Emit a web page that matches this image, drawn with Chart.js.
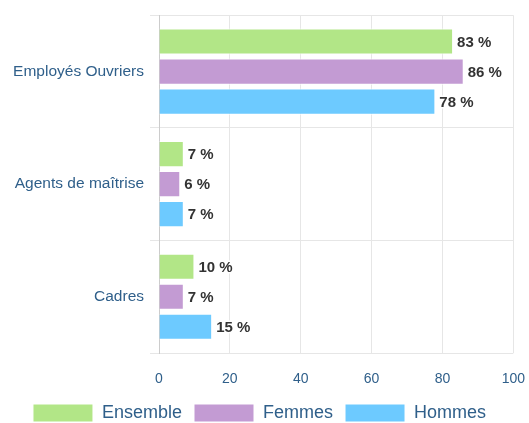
<!DOCTYPE html>
<html>
<head>
<meta charset="utf-8">
<script src="https://cdn.jsdelivr.net/npm/chart.js@4"></script>
<style>
  html, body { margin: 0; padding: 0; background: #fff; }
  #wrap { width: 529px; height: 423px; }
</style>
</head>
<body>
<div id="wrap"><canvas id="chart"></canvas></div>
<script>
// Répartition par catégorie socioprofessionnelle
const categories = ['Employés Ouvriers', 'Agents de maîtrise', 'Cadres'];
const seriesNames = ['Ensemble', 'Femmes', 'Hommes'];
const ensemble = [83, 7, 10];
const femmes   = [86, 6, 7];
const hommes   = [78, 7, 15];
const xTicks   = [0, 20, 40, 60, 80, 100];

const COLORS = ['#b2e687', '#c39bd3', '#6dcaff'];
const FONT = 'Liberation Sans, Arial, sans-serif';
const LABEL_BLUE = '#2f5f8a';

// étiquettes "83 %" à droite des barres
const valueLabels = {
  id: 'valueLabels',
  afterDatasetsDraw(chart) {
    const ctx = chart.ctx;
    ctx.save();
    ctx.font = `bold 15px ${FONT}`;
    ctx.textBaseline = 'middle';
    ctx.textAlign = 'left';
    ctx.lineJoin = 'round';
    chart.data.datasets.forEach((ds, i) => {
      chart.getDatasetMeta(i).data.forEach((bar, j) => {
        const txt = ds.data[j] + ' %';
        ctx.lineWidth = 3;
        ctx.strokeStyle = '#fff';
        ctx.strokeText(txt, bar.x + 4, bar.y + 1);
        ctx.fillStyle = '#333';
        ctx.fillText(txt, bar.x + 4, bar.y + 1);
      });
    });
    ctx.restore();
  }
};

new Chart(document.getElementById('chart'), {
  type: 'bar',
  data: {
    labels: categories,
    datasets: [ensemble, femmes, hommes].map((d, i) => ({
      label: seriesNames[i],
      data: d,
      backgroundColor: COLORS[i],
      borderColor: '#fff',
      borderWidth: 1,
      categoryPercentage: 0.8,
      barPercentage: 0.87,
    }))
  },
  options: {
    indexAxis: 'y',
    responsive: true,
    maintainAspectRatio: false,
    animation: false,
    layout: { padding: { top: 13, right: 10, left: 0, bottom: -9 } },
    plugins: {
      legend: {
        position: 'bottom',
        labels: {
          boxWidth: 60,
          boxHeight: 18,
          padding: 12,
          color: LABEL_BLUE,
          font: { family: FONT, size: 18 }
        }
      },
      tooltip: { enabled: false }
    },
    scales: {
      x: {
        min: 0,
        max: 100,
        afterBuildTicks: s => { s.ticks = xTicks.map(v => ({ value: v })); },
        afterFit: s => { s.height = 39; },
        grid: { color: '#e6e6e6', tickLength: 14, tickColor: 'transparent' },
        border: { display: false },
        ticks: { color: LABEL_BLUE, padding: 4, font: { family: FONT, size: 14 } }
      },
      y: {
        afterFit: s => { s.width = 159; },
        grid: { color: '#e6e6e6', offset: true, tickLength: 9 },
        border: { color: '#ccc' },
        ticks: { color: LABEL_BLUE, padding: 6, font: { family: FONT, size: 15.5 } }
      }
    }
  },
  plugins: [valueLabels]
});
</script>
</body>
</html>
